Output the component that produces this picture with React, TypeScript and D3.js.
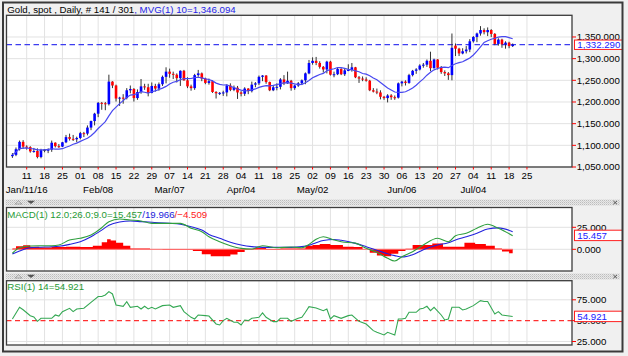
import React from "react";
import * as d3 from "d3";

// Bars: weekday index counted from Mon Jan 4 2016; first bar = Tue Jan 5 2016
const firstBar = 1;
const opens = [1075,1078,1091,1108,1097,1096,1086,1087,1073,1089, 1089,1090,1106,1098,1097,1107,1119,1115,1114,1117, 1128,1127,1141,1156,1173,1198,1197,1195,1247,1238, 1208,1210,1209,1227,1230,1209,1223,1236,1234,1221, 1237,1231,1241,1258,1270,1265,1263,1255,1272,1250, 1236,1232,1262,1266,1254,1244,1248,1223,1220,1221, 1222,1238,1228,1233,1222,1219,1231,1225,1240,1243, 1258,1261,1246,1227,1234,1235,1252,1243,1249,1232, 1238,1243,1250,1266,1290,1295,1290,1281,1275,1293, 1263,1264,1276,1264,1273,1274,1280,1257,1254,1252, 1249,1227,1224,1222,1212,1209,1215,1211,1210,1243, 1247,1244,1262,1272,1275,1284,1286,1295,1278,1298, 1279,1269,1266,1262,1330,1323,1312,1317,1321,1340, 1350,1358,1366,1361,1366,1357,1334,1344,1333,1337, 1329];
const highs = [1082,1095,1111,1112,1100,1098,1094,1093,1092,1091, 1093,1111,1107,1103,1108,1124,1127,1124,1120,1131, 1131,1146,1157,1175,1200,1200,1200,1263,1248,1240, 1212,1218,1232,1238,1232,1229,1253,1242,1242,1245, 1242,1245,1261,1280,1277,1270,1266,1273,1274,1257, 1240,1265,1274,1268,1256,1254,1250,1225,1223,1226, 1241,1243,1238,1237,1225,1234,1232,1247,1246,1261, 1262,1262,1247,1237,1243,1255,1262,1270,1251,1240, 1246,1252,1268,1297,1303,1304,1294,1283,1295,1295, 1270,1279,1278,1277,1287,1290,1281,1260,1259,1257, 1251,1232,1231,1227,1214,1218,1218,1215,1245,1249, 1250,1265,1274,1278,1287,1290,1298,1316,1300,1299, 1283,1273,1269,1358,1335,1325,1324,1329,1345,1352, 1360,1375,1370,1372,1368,1359,1347,1346,1340,1339, 1335];
const lows = [1071,1075,1088,1092,1090,1083,1083,1070,1070,1084, 1082,1085,1095,1094,1096,1105,1111,1110,1107,1114, 1119,1123,1135,1146,1165,1182,1181,1192,1232,1201, 1191,1196,1206,1220,1201,1205,1219,1228,1213,1220, 1224,1226,1237,1243,1256,1253,1245,1237,1249,1232, 1226,1228,1258,1248,1241,1240,1221,1208,1216,1214, 1213,1225,1225,1207,1213,1214,1218,1222,1234,1239, 1248,1242,1225,1225,1227,1229,1239,1242,1226,1228, 1235,1239,1241,1264,1286,1285,1277,1268,1266,1261, 1257,1262,1262,1260,1271,1270,1255,1244,1248,1247, 1225,1222,1218,1206,1205,1199,1205,1205,1208,1236, 1238,1242,1259,1265,1273,1279,1281,1271,1277,1275, 1265,1260,1251,1250,1306,1306,1310,1312,1315,1337, 1338,1353,1356,1352,1350,1331,1330,1325,1323,1324, 1327];
const closes = [1078,1091,1108,1097,1096,1086,1087,1073,1089,1089, 1090,1106,1098,1097,1107,1119,1115,1114,1117,1128, 1127,1141,1156,1173,1198,1197,1195,1247,1238,1208, 1210,1209,1227,1230,1209,1223,1236,1234,1221,1237, 1231,1241,1258,1270,1265,1263,1255,1272,1250,1236, 1232,1262,1266,1254,1244,1248,1223,1220,1221,1222, 1238,1228,1233,1222,1219,1231,1225,1240,1243,1258, 1261,1246,1227,1234,1235,1252,1243,1249,1232,1238, 1243,1250,1266,1290,1295,1290,1281,1275,1293,1263, 1264,1276,1264,1273,1274,1280,1257,1254,1252,1249, 1227,1224,1222,1212,1209,1215,1211,1210,1243,1247, 1244,1262,1272,1275,1284,1286,1295,1278,1298,1279, 1269,1266,1262,1325,1323,1312,1317,1321,1340,1350, 1358,1366,1361,1366,1357,1334,1344,1333,1337,1329, 1332.29];
const lastPrice = 1332.29;
const maPeriod = 10;
const maLastValue = 1346.094;

// MACD(12,26,9), at these bar indices
const macdIdx = [1,3,6,9,12,14,17,20,23,26, 28,31,34,37,40,45,48,51,54,56, 59,62,65,68,71,75,79,82,84,86, 88,91,93,97,100,103,106,108,110,113, 116,120,123,125,128,131,134,137,141];
const macdVals = [-4.5,1.8,3.8,4.0,4.1,4.9,10.6,12.5,16.3,24.5, 31.4,34.4,33.3,32.2,29.5,29.5,29.5,23.9,20,14.3, 8.6,4.1,1.1,0.3,4.1,1.8,2.6,1.8,5.5,11.5, 14.3,10.6,8.6,7,1.1,-3.4,-10.2,-13.3,-8.4,-2.7, 4.9,12.5,8.6,15.4,18.2,23.9,28.4,23.9,15.457];
const signalVals = [-5.4,-2,1.8,2.4,2.9,3.5,5.6,8.6,14.3,21.8, 27.4,31.1,32.2,31.5,30.7,29.5,28.4,25.7,21.8,16.9, 12.5,8,4.9,3,2.2,2.2,2.2,3,4.5,7.5, 10,11.2,10.2,6.7,3,-1,-5,-7.2,-8.7,-6.1, -0.4,4.9,7.5,10.6,14.3,18.3,23,24.3,19.966];
const histIdx = [1,3,5,7,10,14,18,22,25,27, 28,29,31,33,35,38,41,45,50,53, 55,58,61,63,65,67,70,74,78,82, 84,86,88,92,95,98,100,102,104,106, 108,110,112,114,117,120,123,126,129,132, 135,137,139,141];
const histVals = [0.9,3.5,4.5,3,2,2.5,3,2.5,4,8, 11.4,10,7.5,4,1,1,0,-0.5,-0.5,-2, -5.7,-8,-8,-6,-3,-0.5,1.5,-0.5,1,1, 3.9,5,6,5,3,2.5,0,-4,-7,-8, -5,-2,0.5,4.9,5,6.7,3,3,7.5,6, 4.1,1,-2.5,-4.509];

// RSI(14)
const rsiIdx = [1,3,4,6,7,8,9,12,13,14, 15,17,18,19,21,23,25,26,27,28, 29,30,32,33,34,36,37,38,39,40, 41,43,45,46,48,49,51,52,53,55, 56,58,59,60,61,63,64,65,66,67, 68,70,71,72,74,75,76,78,79,81, 82,83,84,86,88,89,90,91,93,95, 96,98,100,102,103,105,106,108,109,110, 111,112,114,115,116,117,118,119,121,122, 123,124,126,127,128,130,132,133,134,136, 137,138,140,141];
const rsiVals = [52,66,63,56,54.5,49.2,52.8,52.8,56.8,55.5, 60.8,64.8,60.8,64,64.9,72,79,79,80.8,84.8, 82,68.8,67.2,72.8,66,67.2,64,67.2,64,66, 64,68,68.8,66,68,60.8,54,52,56.8,56, 55.5,46,44.8,50,52.8,48,48,44.8,50.8,50, 52.8,54,59.2,54,48.8,48.8,52.8,52.8,49.2,52.8, 54,60,66.8,65.2,62,64,52,56,52.8,56, 56.8,49.2,46,38,36,32.8,36,32.8,52,52, 52.8,60,60,64,64.9,67.2,62,66,56.8,50.8, 52,66,66,62.8,64,68,74,73,73,58, 60.8,56.8,55.5,54.921];

// axis ticks (Mondays, every 5 weekdays from Jan 11)
const tickFirst = 5;
const tickEvery = 5;
const tickLabels = ["11","18","25","01","08","15","22","29","07","14","21","28","04","11","18","25","02","09","16","23","30","06","13","20","27","04","11","18","25"];
const monthLabels = ["Jan/11/16","Feb/08","Mar/07","Apr/04","May/02","Jun/06","Jul/04"];
const monthIdx = [5,25,45,65,85,110,130];
const priceTicks = [1050,1100,1150,1200,1250,1300,1350];
const macdTicks = [0,25];
const rsiTicks = [25,50,75];

const FONT = "'Liberation Sans', Arial, Helvetica, sans-serif";
const FS = 9.7;

export default function App() {
  const L = 6.5, R = 572;
  const mainT = 15.3, mainB = 167;
  const macdT = 207.5, macdB = 271;
  const rsiT = 280.7, rsiB = 345;

  const x = d3.scaleLinear().domain([5, 140]).range([26.7, 509.1]);
  const yP = d3.scaleLinear().domain([1050, 1400]).range([mainB, mainT]);
  const yM = d3.scaleLinear().domain([0, 25]).range([249.3, 227.3]);
  const yR = d3.scaleLinear().domain([25, 75]).range([341.5, 299.8]);

  const ticks = tickLabels.map((t, k) => ({ t, i: tickFirst + k * tickEvery }));
  const sma = closes.map((_, i) => d3.mean(closes.slice(Math.max(0, i - maPeriod + 1), i + 1)) as number);

  const mvgPath = d3.line<number>().x((_, i) => x(firstBar + i)).y(d => yP(d))(sma) || "";
  const macdPath = d3.line<number>().x((_, k) => x(macdIdx[k])).y(d => yM(d)).curve(d3.curveMonotoneX)(macdVals) || "";
  const sigPath = d3.line<number>().x((_, k) => x(macdIdx[k])).y(d => yM(d)).curve(d3.curveMonotoneX)(signalVals) || "";
  const histPath = d3.area<number>().x((_, k) => x(histIdx[k])).y0(yM(0)).y1(d => yM(d)).curve(d3.curveStep)(histVals) || "";
  const rsiPath = d3.line<number>().x((_, k) => x(rsiIdx[k])).y(d => yR(d))(rsiVals) || "";

  const fmtP = d3.format(",.3f");
  const fmt3 = d3.format(".3f");
  const bw = 2.6;

  const vGrid = (top: number, bot: number, key: string) =>
    ticks.map(tk => (
      <line key={key + tk.i} x1={x(tk.i)} x2={x(tk.i)} y1={top} y2={bot} stroke="#e2e2e2" strokeWidth={1} />
    ));

  const splitter = (y: number, key: string) => (
    <g key={key}>
      <rect x={L - 1} y={y} width={621 - L} height={6} fill="url(#hatch)" />
      <polygon points={`${15},${y + 4.5} ${18.5},${y + 1.2} ${22},${y + 4.5}`} fill="#d8d8d8" stroke="#8a8a8a" strokeWidth={0.6} />
      <polygon points={`${27},${y + 1.3} ${35},${y + 1.3} ${31},${y + 4.6}`} fill="#555" />
      <rect x={612.5} y={y + 0.8} width={5} height={4.6} fill="#dcdcdc" />
      <path d={`M613.3,${y + 1.4} L617,${y + 4.8} M617,${y + 1.4} L613.3,${y + 4.8}`} stroke="#555" strokeWidth={1} />
    </g>
  );

  return (
    <svg width={628} height={356} style={{ position: "absolute", left: 0, top: 0, display: "block" }}
      fontFamily={FONT} fontSize={FS}>
      <defs>
        <pattern id="hatch" width="2" height="2" patternUnits="userSpaceOnUse">
          <rect width="2" height="2" fill="#e8e8e8" />
          <rect width="1" height="1" fill="#bdbdbd" />
          <rect x="1" y="1" width="1" height="1" fill="#d2d2d2" />
        </pattern>
      </defs>
      <rect x={0} y={0} width={628} height={356} fill="#f0f0f0" />

      {/* title */}
      <text x={7.3} y={12.7} fill="#000">
        Gold, spot , Daily, # 141 / 301<tspan fill="#2424e6">, MVG(1) {maPeriod}={fmtP(maLastValue)}</tspan>
      </text>

      {/* ===== main panel ===== */}
      <rect x={L} y={mainT} width={R - L} height={mainB - mainT} fill="#fff" />
      {vGrid(mainT, mainB, "gm")}
      {priceTicks.concat([1400]).map(p => (
        <line key={"hp" + p} x1={L} x2={R} y1={yP(p)} y2={yP(p)} stroke="#e2e2e2" />
      ))}
      <line x1={L} x2={R} y1={yP(lastPrice)} y2={yP(lastPrice)} stroke="#3c3cf0" strokeWidth={1.4} strokeDasharray="5.5,3.5" />
      {closes.map((c, k) => {
        const i = firstBar + k;
        const o = opens[k];
        const cx = x(i);
        const doji = Math.abs(c - o) < 0.6;
        const col = c > o ? "#0000ff" : "#ff0000";
        const top = yP(Math.max(o, c));
        const bot = yP(Math.min(o, c));
        return (
          <g key={"c" + i}>
            <line x1={cx} x2={cx} y1={yP(highs[k])} y2={yP(lows[k])} stroke="#333" strokeWidth={1} />
            {doji ? (
              <line x1={cx - bw / 2 - 0.3} x2={cx + bw / 2 + 0.3} y1={top} y2={top} stroke="#111" strokeWidth={1} />
            ) : (
              <rect x={cx - bw / 2} y={top} width={bw} height={Math.max(1, bot - top)} fill={col} />
            )}
          </g>
        );
      })}
      <path d={mvgPath} fill="none" stroke="#4848f0" strokeWidth={1.2} />
      <rect x={L} y={mainT} width={R - L} height={mainB - mainT} fill="none" stroke="#3c3c3c" strokeWidth={1.3} />

      {/* x axis */}
      {ticks.map(tk => (
        <g key={"xt" + tk.i}>
          <line x1={x(tk.i)} x2={x(tk.i)} y1={mainB} y2={mainB + 2.5} stroke="#ff0000" strokeWidth={1} />
          <text x={x(tk.i)} y={179.4} textAnchor="middle" fill="#000">{tk.t}</text>
        </g>
      ))}
      {monthLabels.map((m, k) => (
        <text key={"ml" + k} x={x(monthIdx[k])} y={193.4} textAnchor="middle" fill="#000">{m}</text>
      ))}

      {/* price axis */}
      {priceTicks.map(p => (
        <g key={"yt" + p}>
          <line x1={R} x2={R + 4} y1={yP(p)} y2={yP(p)} stroke="#ff0000" strokeWidth={1} />
          <text x={576.7} y={yP(p)} dy="0.36em" fill="#000">{fmtP(p)}</text>
        </g>
      ))}
      <rect x={574.5} y={yP(lastPrice) - 4.6} width={48} height={9.4} fill="#fff" stroke="#ff2020" strokeWidth={1} />
      <text x={577.3} y={yP(lastPrice)} dy="0.36em" fill="#2020ff">{fmtP(lastPrice)}</text>

      {splitter(199.5, "s1")}

      {/* ===== MACD panel ===== */}
      <rect x={L} y={macdT} width={R - L} height={macdB - macdT} fill="#fff" />
      {vGrid(macdT, macdB, "gmacd")}
      {macdTicks.map(v => (
        <line key={"hm" + v} x1={L} x2={R} y1={yM(v)} y2={yM(v)} stroke="#e2e2e2" />
      ))}
      <path d={histPath} fill="#ff0000" />
      <line x1={x(firstBar)} x2={x(firstBar + closes.length - 1)} y1={yM(0)} y2={yM(0)} stroke="#ff6a6a" strokeWidth={1} />
      <path d={sigPath} fill="none" stroke="#2222dd" strokeWidth={1.1} />
      <path d={macdPath} fill="none" stroke="#2e9e3e" strokeWidth={1.1} />
      <text x={7.3} y={218.4}>
        <tspan fill="#1f9a35">MACD(1) 12.0;26.0;9.0={fmt3(macdVals[macdVals.length - 1])}</tspan>
        <tspan fill="#2222dd">/{fmt3(signalVals[signalVals.length - 1])}</tspan>
        <tspan fill="#ff2020">/{fmt3(histVals[histVals.length - 1])}</tspan>
      </text>
      <rect x={L} y={macdT} width={R - L} height={macdB - macdT} fill="none" stroke="#3c3c3c" strokeWidth={1.3} />
      {macdTicks.map(v => (
        <g key={"ym" + v}>
          <line x1={R} x2={R + 4} y1={yM(v)} y2={yM(v)} stroke="#ff0000" />
          <text x={576.7} y={yM(v)} dy="0.36em" fill="#000">{fmt3(v)}</text>
        </g>
      ))}
      <rect x={574.5} y={230.2} width={48} height={10.4} fill="#fff" stroke="#ff2020" strokeWidth={1} />
      <text x={577.3} y={235.4} dy="0.36em" fill="#2020ff">{fmt3(macdVals[macdVals.length - 1])}</text>

      {splitter(273.5, "s2")}

      {/* ===== RSI panel ===== */}
      <rect x={L} y={rsiT} width={R - L} height={rsiB - rsiT} fill="#fff" />
      {vGrid(rsiT, rsiB, "grsi")}
      {[25, 75].map(v => (
        <line key={"hr" + v} x1={L} x2={R} y1={yR(v)} y2={yR(v)} stroke="#e2e2e2" />
      ))}
      <line x1={L} x2={R} y1={yR(50)} y2={yR(50)} stroke="#ff3030" strokeWidth={1.3} strokeDasharray="5,3.5" />
      <path d={rsiPath} fill="none" stroke="#34a853" strokeWidth={1.1} />
      <text x={7.3} y={290.3} fill="#1f9a35">RSI(1) 14={fmt3(rsiVals[rsiVals.length - 1])}</text>
      <rect x={L} y={rsiT} width={R - L} height={rsiB - rsiT} fill="none" stroke="#3c3c3c" strokeWidth={1.3} />
      {rsiTicks.map(v => (
        <g key={"yr" + v}>
          <line x1={R} x2={R + 4} y1={yR(v)} y2={yR(v)} stroke="#ff0000" />
          <text x={576.7} y={yR(v)} dy="0.36em" fill="#000">{fmt3(v)}</text>
        </g>
      ))}
      <rect x={574.5} y={311.2} width={48} height={10.4} fill="#fff" stroke="#ff2020" strokeWidth={1} />
      <text x={577.3} y={316.4} dy="0.36em" fill="#2020ff">{fmt3(rsiVals[rsiVals.length - 1])}</text>

      {/* outer frame */}
      <rect x={3} y={2.5} width={619.5} height={349} fill="none" stroke="#3a3a3a" strokeWidth={2} />
    </svg>
  );
}
